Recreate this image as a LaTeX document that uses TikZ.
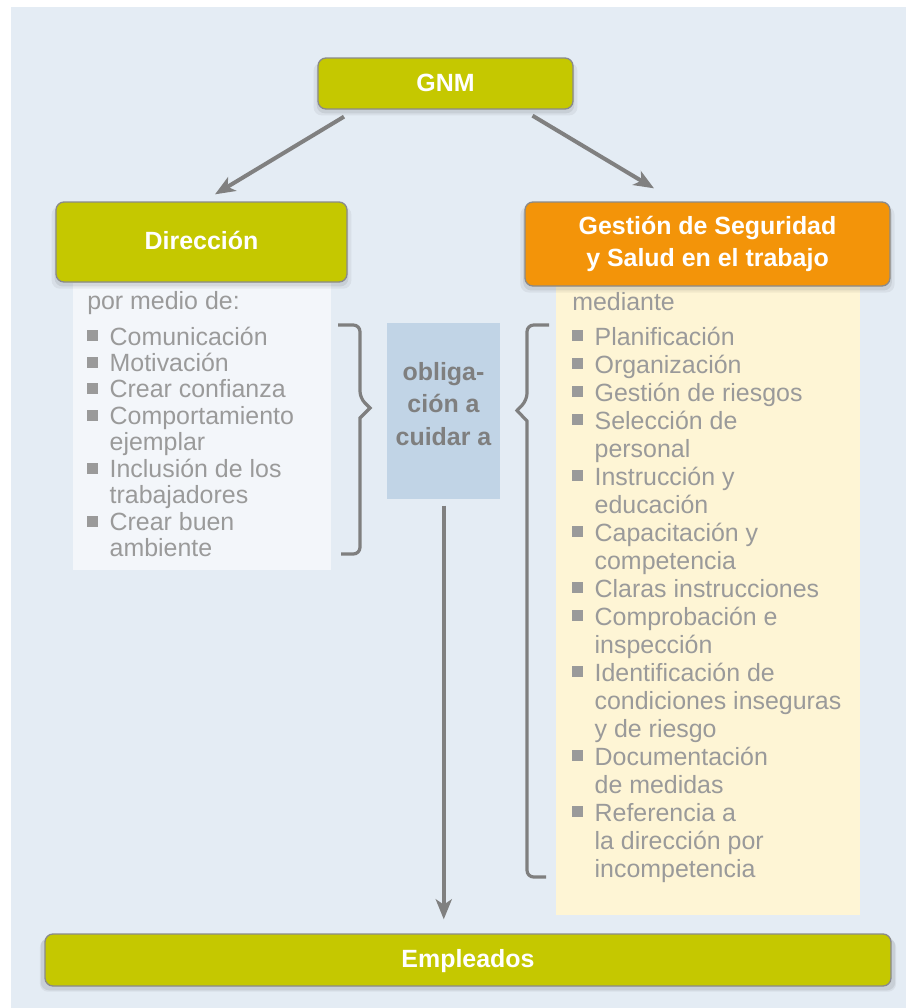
\documentclass[tikz,border=0pt]{standalone}
\usepackage{fontspec}
\setmainfont{Liberation Sans}
\usetikzlibrary{arrows.meta,calc,shadows}
\definecolor{bgc}{HTML}{E4ECF4}
\definecolor{olive}{HTML}{C5C800}
\definecolor{orng}{HTML}{F39409}
\definecolor{lpanel}{HTML}{F3F6FA}
\definecolor{ypanel}{HTML}{FEF5D5}
\definecolor{bluebox}{HTML}{C1D4E6}
\definecolor{txtgray}{HTML}{9A9A9A}
\definecolor{dkgray}{HTML}{7F7F7F}
\definecolor{bordergray}{HTML}{8A8A8A}
\definecolor{arrgray}{HTML}{808080}
\newcommand{\bul}{\raisebox{2.8pt}{\rule{8.2pt}{8.2pt}}}
\newcommand{\itm}[1]{\hbox{\makebox[16.8pt][l]{\bul}#1}}
\newcommand{\cnt}[1]{\hbox{\hspace{16.8pt}#1}}
\newcommand{\ctr}[1]{\hbox to 0pt{\hss#1\hss}}
\tikzset{
  boxshadow/.style={
    general shadow={fill=black, opacity=0.05, shadow xshift=0pt, shadow yshift=-4pt, shadow scale=#1},
    general shadow={fill=black, opacity=0.07, shadow xshift=0pt, shadow yshift=-3pt, shadow scale=1.01}},
  titlebox/.style={draw=bordergray, line width=1pt, rounded corners=6pt, inner sep=0pt,
     text=white, font=\fontsize{18.7}{23.8}\selectfont\bfseries},
  oneline/.style={text height=13.1pt, text depth=1.3pt},
  panel/.style={inner sep=0pt, anchor=north west},
  listtext/.style={inner sep=0pt, anchor=base west, text=txtgray, font=\fontsize{18.7}{20}\selectfont},
  arr/.style={draw=arrgray, line width=3pt, -{Stealth[length=15pt,width=12pt,inset=4pt]}},
  bracepath/.style={draw=dkgray, line width=2.4pt}
}
\begin{document}
\begin{tikzpicture}[x=0.75pt,y=-0.75pt]
\useasboundingbox (0,0) rectangle (906,1008);
\fill[white] (0,0) rectangle (906,1008);
\fill[bgc] (11,7) rectangle (906,1008);

% panels
\node[panel, fill=lpanel, minimum width=193.5pt, minimum height=215.25pt] (lp) at (73,283) {};
\node[panel, fill=ypanel, minimum width=228pt, minimum height=474pt] (rp) at (556,283) {};
\node[panel, fill=bluebox, minimum width=84.75pt, minimum height=132pt] (obl) at (387,323) {};

% title boxes
\node[titlebox, oneline, boxshadow=1.035, fill=olive, minimum width=191.25pt, minimum height=38.25pt] (gnm) at (445.5,83.5) {GNM};
\node[titlebox, oneline, boxshadow=1.03, fill=olive, minimum width=218.25pt, minimum height=60pt] (dir) at (201.5,242) {Dirección};
\node[titlebox, boxshadow=1.025, fill=orng, align=center, minimum width=273.75pt, minimum height=63pt] (gss) at (707.5,244) {Gestión de Seguridad\\y Salud en el trabajo};
\node[titlebox, oneline, boxshadow=1.012, fill=olive, minimum width=634.5pt, minimum height=39pt] (emp) at (468,960) {Empleados};

% list headings
\node[listtext] (lhead) at (87,309) {por medio de:};
\node[listtext] (rhead) at (572,310) {mediante};

% left list
\node[listtext] (llist) at (87,345) {\vtop{\baselineskip=19.85pt\lineskiplimit=-100pt\lineskip=0pt\relax
\itm{Comunicación}
\itm{Motivación}
\itm{Crear confianza}
\itm{Comportamiento}
\cnt{ejemplar}
\itm{Inclusión de los}
\cnt{trabajadores}
\itm{Crear buen}
\cnt{ambiente}}};

% right list
\node[listtext] (rlist) at (572,345) {\vtop{\baselineskip=21pt\lineskiplimit=-100pt\lineskip=0pt\relax
\itm{Planificación}
\itm{Organización}
\itm{Gestión de riesgos}
\itm{Selección de}
\cnt{personal}
\itm{Instrucción y}
\cnt{educación}
\itm{Capacitación y}
\cnt{competencia}
\itm{Claras instrucciones}
\itm{Comprobación e}
\cnt{inspección}
\itm{Identificación de}
\cnt{condiciones inseguras}
\cnt{y de riesgo}
\itm{Documentación}
\cnt{de medidas}
\itm{Referencia a}
\cnt{la dirección por}
\cnt{incompetencia}}};

% obligation text
\node[inner sep=0pt, anchor=base, text=dkgray, font=\fontsize{18.7}{24.4}\selectfont\bfseries] (oblt) at (443.5,380)
  {\vtop{\baselineskip=24.4pt\lineskiplimit=-100pt\lineskip=0pt\relax
  \ctr{obliga-}\ctr{ción a}\ctr{cuidar a}}};

% braces
\draw[bracepath] (338,325) [rounded corners=5pt] -- (360,325) -- (360,398) [sharp corners] -- (370,408) -- (360,418) [rounded corners=5pt] -- (360,554) -- (341,554);
\draw[bracepath] (549,325) [rounded corners=5pt] -- (527,325) -- (527,400) [sharp corners] -- (517,410.5) -- (527,421) [rounded corners=5pt] -- (527,877) -- (546,877);

% arrows
\coordinate (g1) at ($(gnm.south)+(-101.5,7)$);
\coordinate (d1) at ($(dir.north)+(13.5,-7)$);
\coordinate (g2) at ($(gnm.south)+(87,6)$);
\coordinate (s1) at ($(gss.north)+(-53.5,-13)$);
\coordinate (o1) at ($(obl.south)+(0,6)$);
\coordinate (e1) at ($(o1 |- emp.north)+(0,-14)$);
\draw[arr] (g1) -- (d1);
\draw[arr] (g2) -- (s1);
\draw[arr] (o1) -- (e1);
\end{tikzpicture}
\end{document}
